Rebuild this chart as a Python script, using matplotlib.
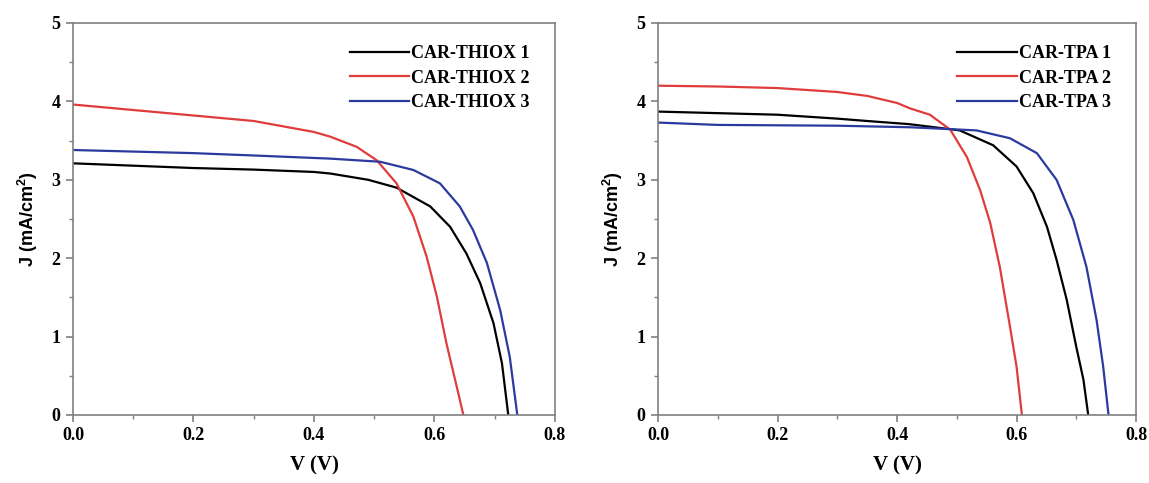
import numpy as np
import matplotlib
matplotlib.use('Agg')
import matplotlib.pyplot as plt
from matplotlib.ticker import MultipleLocator

plt.rcParams['font.family'] = 'Liberation Serif'
plt.rcParams['font.weight'] = 'bold'
plt.rcParams['mathtext.default'] = 'regular'

#########  J-V data  ####################################
v_thiox1 = [0.0, 0.1, 0.2, 0.3, 0.4, 0.427, 0.49, 0.537, 0.593, 0.626, 0.653, 0.676, 0.698, 0.712, 0.7225]
j_thiox1 = [3.21, 3.18, 3.15, 3.13, 3.1, 3.08, 3.0, 2.9, 2.66, 2.40, 2.06, 1.68, 1.17, 0.66, 0.0]
v_thiox2 = [0.0, 0.1, 0.2, 0.3, 0.4, 0.427, 0.471, 0.504, 0.537, 0.565, 0.587, 0.604, 0.62, 0.637, 0.648]
j_thiox2 = [3.96, 3.89, 3.82, 3.75, 3.61, 3.55, 3.42, 3.25, 2.955, 2.53, 2.02, 1.51, 0.91, 0.36, 0.0]
v_thiox3 = [0.0, 0.1, 0.2, 0.3, 0.427, 0.51, 0.565, 0.609, 0.642, 0.664, 0.687, 0.709, 0.725, 0.7375]
j_thiox3 = [3.38, 3.36, 3.34, 3.31, 3.27, 3.23, 3.125, 2.955, 2.66, 2.36, 1.94, 1.34, 0.74, 0.0]

v_tpa1 = [0.0, 0.1, 0.2, 0.3, 0.35, 0.42, 0.505, 0.561, 0.60, 0.628, 0.651, 0.667, 0.684, 0.70, 0.712, 0.72]
j_tpa1 = [3.87, 3.85, 3.83, 3.78, 3.75, 3.71, 3.63, 3.44, 3.17, 2.83, 2.40, 1.98, 1.47, 0.87, 0.45, 0.0]
v_tpa2 = [0.0, 0.1, 0.2, 0.3, 0.35, 0.4, 0.422, 0.455, 0.489, 0.517, 0.539, 0.556, 0.572, 0.589, 0.60, 0.609]
j_tpa2 = [4.2, 4.19, 4.17, 4.12, 4.07, 3.98, 3.91, 3.83, 3.64, 3.29, 2.87, 2.45, 1.89, 1.13, 0.62, 0.0]
v_tpa3 = [0.0, 0.1, 0.3, 0.422, 0.533, 0.589, 0.634, 0.667, 0.695, 0.717, 0.734, 0.745, 0.754]
j_tpa3 = [3.73, 3.70, 3.69, 3.67, 3.63, 3.53, 3.34, 3.0, 2.49, 1.89, 1.21, 0.62, 0.0]

colors = ['black', '#e03c3c', '#2b3a9e']

fig = plt.figure(figsize=(11.49, 4.83), dpi=100)
ax1 = fig.add_axes([0.0635, 0.1408, 0.4195, 0.8116])
ax2 = fig.add_axes([0.5727, 0.1408, 0.416, 0.8116])

panels = [
    (ax1, [(v_thiox1, j_thiox1, 'CAR-THIOX 1'), (v_thiox2, j_thiox2, 'CAR-THIOX 2'),
           (v_thiox3, j_thiox3, 'CAR-THIOX 3')]),
    (ax2, [(v_tpa1, j_tpa1, 'CAR-TPA 1'), (v_tpa2, j_tpa2, 'CAR-TPA 2'),
           (v_tpa3, j_tpa3, 'CAR-TPA 3')]),
]

for ax, series in panels:
    for (v, j, lab), c in zip(series, colors):
        ax.plot(v, j, color=c, linewidth=1.6, label=lab)
    ax.set_xlim(0, 0.8)
    ax.set_ylim(0, 5)
    ax.xaxis.set_major_locator(MultipleLocator(0.2))
    ax.xaxis.set_minor_locator(MultipleLocator(0.1))
    ax.yaxis.set_major_locator(MultipleLocator(1))
    ax.yaxis.set_minor_locator(MultipleLocator(0.5))
    ax.xaxis.set_major_formatter(plt.FormatStrFormatter('%.1f'))
    for s in ax.spines.values():
        s.set_color('#808080')
        s.set_linewidth(1.2)
    ax.tick_params(which='major', direction='out', length=5, width=1.2, color='#808080',
                   labelsize=13, pad=4)
    ax.tick_params(which='minor', direction='out', length=3, width=1.0, color='#808080')
    ax.set_xlabel('V (V)', fontsize=15, fontweight='bold', labelpad=8)
    ax.set_ylabel('J (mA/cm$^{2}$)', fontsize=13, fontweight='bold', labelpad=8,
                  family='Liberation Sans')
    ax.legend(loc='upper right', frameon=False, fontsize=13, handlelength=3.3,
              handletextpad=0.1, labelspacing=0.42, borderaxespad=0.6,
              bbox_to_anchor=(0.985, 0.99))

fig.savefig('out.png', dpi=100)
